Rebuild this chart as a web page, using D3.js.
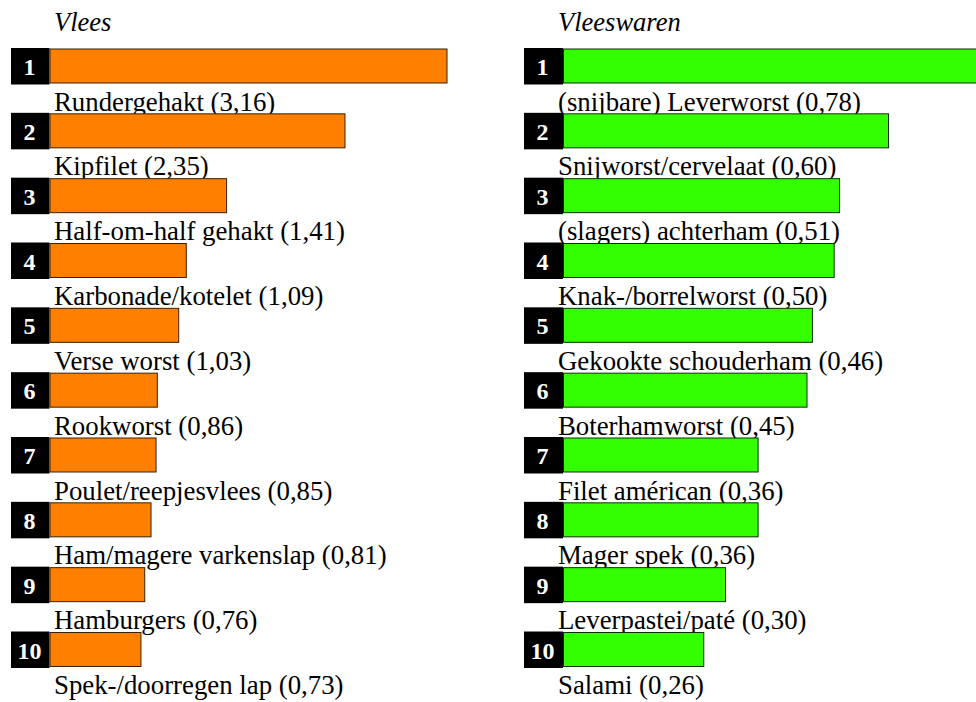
<!DOCTYPE html>
<html>
<head>
<meta charset="utf-8">
<script src="https://cdn.jsdelivr.net/npm/d3@7"></script>
<style>
  body { margin: 0; background: #fff; }
  svg { display: block; }
</style>
</head>
<body>
<svg id="svgfield" width="976" height="702"></svg>
<script>
var ranks = [1, 2, 3, 4, 5, 6, 7, 8, 9, 10];

var vlees_names = ["Rundergehakt", "Kipfilet", "Half-om-half gehakt", "Karbonade/kotelet", "Verse worst",
  "Rookworst", "Poulet/reepjesvlees", "Ham/magere varkenslap", "Hamburgers", "Spek-/doorregen lap"];
var vlees_values = [3.16, 2.35, 1.41, 1.09, 1.03, 0.86, 0.85, 0.81, 0.76, 0.73];

var waren_names = ["(snijbare) Leverworst", "Snijworst/cervelaat", "(slagers) achterham", "Knak-/borrelworst",
  "Gekookte schouderham", "Boterhamworst", "Filet américan", "Mager spek", "Leverpastei/paté", "Salami"];
var waren_values = [0.78, 0.60, 0.51, 0.50, 0.46, 0.45, 0.36, 0.36, 0.30, 0.26];

var svg = d3.select("#svgfield");
var serif = "'Liberation Serif', 'Times New Roman', Times, serif";

// row tops
var y = d3.scaleLinear().domain([1, 10]).range([48.5, 632]);
var fmt = function(v) { return v.toFixed(2).replace(".", ","); };

var draw_panel = function(opts) {
  var g = svg.append("g");
  var x = d3.scaleLinear().domain([0, opts.max]).range([0, opts.maxWidth]);

  g.append("text")
    .attr("x", opts.textX).attr("y", 31)
    .style("font-family", serif).style("font-style", "italic").style("font-size", "26.5px")
    .text(opts.title);

  // labels first, the bars cover their descenders
  g.selectAll("text.lbl").data(ranks).enter().append("text")
    .attr("class", "lbl")
    .attr("x", opts.textX)
    .attr("y", function(d) { return y(d) + 62; })
    .style("font-family", serif).style("font-size", "26.8px").attr("fill", "#000")
    .text(function(d, i) { return opts.names[i] + " (" + fmt(opts.values[i]) + ")"; });

  g.selectAll("rect.box").data(ranks).enter().append("rect")
    .attr("class", "box")
    .attr("x", opts.boxX).attr("y", function(d) { return y(d) - 0.5; })
    .attr("width", opts.barX - opts.boxX).attr("height", 36.5)
    .attr("fill", "#000");

  g.selectAll("text.num").data(ranks).enter().append("text")
    .attr("class", "num")
    .attr("x", opts.boxX + 18.5)
    .attr("y", function(d) { return y(d) + 26.5; })
    .attr("text-anchor", "middle")
    .style("font-family", serif).style("font-weight", "bold").style("font-size", "24px")
    .attr("fill", "#fff")
    .text(function(d) { return d; });

  g.selectAll("rect.bar").data(opts.values).enter().append("rect")
    .attr("class", "bar")
    .attr("x", opts.barX + 0.5)
    .attr("y", function(d, i) { return y(ranks[i]) + 0.5; })
    .attr("width", function(d) { return x(d) - 1; })
    .attr("height", 34)
    .attr("fill", opts.color)
    .attr("stroke", opts.stroke).attr("stroke-width", 1);
};

draw_panel({ title: "Vlees", names: vlees_names, values: vlees_values, max: 3.16, maxWidth: 398,
  boxX: 11, barX: 49.5, textX: 54, color: "#ff8000", stroke: "#3a2000" });
draw_panel({ title: "Vleeswaren", names: waren_names, values: waren_values, max: 0.60, maxWidth: 326,
  boxX: 524, barX: 563, textX: 558, color: "#33ff00", stroke: "#0a3000" });
</script>
</body>
</html>
